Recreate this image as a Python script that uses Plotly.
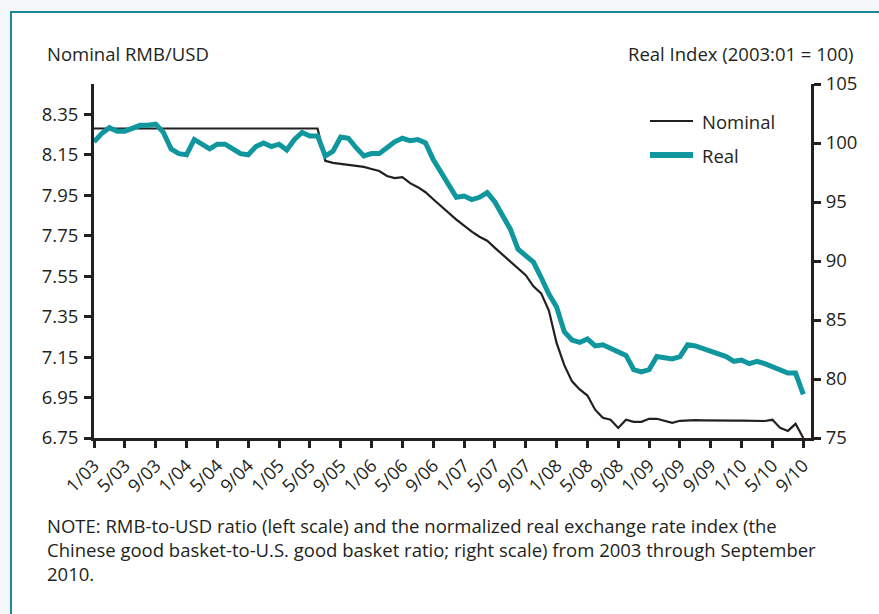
import plotly.graph_objects as go

# months since Jan 2003 (0 = 1/03 ... 92 = 9/10)
months = list(range(93))

nominal = [8.28] * 30 + [
    8.12, 8.11, 8.105, 8.10, 8.095, 8.09, 8.08, 8.07, 8.045, 8.035,
    8.04, 8.01, 7.99, 7.965, 7.93, 7.895, 7.86, 7.83, 7.80, 7.77,
    7.745, 7.725, 7.69, 7.655, 7.625, 7.59, 7.555, 7.50, 7.465, 7.38,
    7.22, 7.11, 7.03, 6.99, 6.96, 6.89, 6.85, 6.84, 6.80, 6.84,
    6.83, 6.83, 6.845, 6.845, 6.835, 6.825, 6.835, 6.837, 6.838, 6.837,
    6.836, 6.836, 6.836, 6.836, 6.836, 6.836, 6.836, 6.834, 6.84, 6.80,
    6.785, 6.82, 6.75]

real = [
    100.1, 100.8, 101.3, 101.0, 101.0, 101.3, 101.5, 101.5, 101.6, 100.9,
    99.5, 99.1, 99.0, 100.3, 99.9, 99.5, 99.9, 99.9, 99.5, 99.1,
    99.0, 99.7, 100.0, 99.7, 99.9, 99.4, 100.3, 100.9, 100.6, 100.6,
    98.9, 99.3, 100.5, 100.4, 99.6, 98.9, 99.1, 99.1, 99.6, 100.1,
    100.4, 100.2, 100.3, 100.0, 98.6, 97.5, 96.4, 95.4, 95.5, 95.2,
    95.4, 95.8, 95.0, 93.8, 92.7, 91.0, 90.5, 89.9, 88.6, 87.2,
    86.1, 84.0, 83.3, 83.1, 83.4, 82.8, 82.9, 82.6, 82.3, 82.0,
    80.8, 80.6, 80.8, 81.9, 81.8, 81.7, 81.9, 82.9, 82.8, 82.6,
    82.4, 82.2, 81.9, 81.5, 81.6, 81.3, 81.5, 81.3, 81.0, 80.7,
    80.5, 80.5, 78.7]

x_tickvals = list(range(0, 93, 4))
x_ticktext = ["1/03", "5/03", "9/03", "1/04", "5/04", "9/04", "1/05", "5/05",
              "9/05", "1/06", "5/06", "9/06", "1/07", "5/07", "9/07", "1/08",
              "5/08", "9/08", "1/09", "5/09", "9/09", "1/10", "5/10", "9/10"]
left_ticks = [6.75, 6.95, 7.15, 7.35, 7.55, 7.75, 7.95, 8.15, 8.35]
left_ticktext = ["6.75", "6.95", "7.15", "7.35", "7.55", "7.75", "7.95", "8.15", "8.35"]
right_ticks = [75, 80, 85, 90, 95, 100, 105]

TEAL = "#10979e"
INK = "#231f20"
BG = "#f4f7f9"
FONT = "Open Sans"
FS = 18.5

W, H = 879, 614
# plot area in screen pixels: x 94..811, y 84..438
L, T = 94, 84
R = W - 811
B = H - 438
pw, ph = W - L - R, H - T - B


def px(xs):
    return (xs - L) / pw


def py(ys):
    return 1 - (ys - T) / ph


fig = go.Figure()
fig.add_trace(go.Scatter(x=months, y=nominal, mode="lines", name="Nominal",
                         line=dict(color=INK, width=2.2), yaxis="y"))
fig.add_trace(go.Scatter(x=months, y=real, mode="lines", name="Real",
                         line=dict(color=TEAL, width=5), yaxis="y2"))

axis_common = dict(showline=True, linecolor=INK, linewidth=3, ticks="outside",
                   tickcolor=INK, tickwidth=3, ticklen=7, showgrid=False,
                   zeroline=False, tickfont=dict(family=FONT, size=FS, color=INK))

fig.update_layout(
    width=W, height=H,
    margin=dict(l=L, r=R, t=T, b=B),
    paper_bgcolor=BG,
    plot_bgcolor="white",
    showlegend=False,
    xaxis=dict(range=[0, 93], tickvals=x_tickvals, ticktext=x_ticktext,
               tickangle=-45, **{**axis_common, "tickfont": dict(family=FONT, size=18, color=INK)}),
    yaxis=dict(range=[6.75, 8.50], tickvals=left_ticks, ticktext=left_ticktext,
               ticklabelstandoff=2, **axis_common),
    yaxis2=dict(range=[75, 105], tickvals=right_ticks, overlaying="y", side="right",
                anchor="x", ticklabelstandoff=1, **axis_common),
    shapes=[
        dict(type="rect", xref="paper", yref="paper", layer="below",
             x0=px(11), x1=px(960), y0=py(12), y1=py(700),
             fillcolor="white", line=dict(color="#1b8893", width=2)),
        dict(type="line", xref="paper", yref="paper", x0=px(650), x1=px(693),
             y0=py(121), y1=py(121), line=dict(color=INK, width=2.2)),
        dict(type="line", xref="paper", yref="paper", x0=px(650), x1=px(693),
             y0=py(155), y1=py(155), line=dict(color=TEAL, width=6)),
    ],
    annotations=[
        dict(text="Nominal RMB/USD", xref="paper", yref="paper", x=px(45), y=py(53),
             xanchor="left", yanchor="middle", showarrow=False,
             font=dict(family=FONT, size=FS, color=INK)),
        dict(text="Real Index (2003:01 = 100)", xref="paper", yref="paper", x=px(855), y=py(53),
             xanchor="right", yanchor="middle", showarrow=False,
             font=dict(family=FONT, size=FS, color=INK)),
        dict(text="Nominal", xref="paper", yref="paper", x=px(700), y=py(121),
             xanchor="left", yanchor="middle", showarrow=False,
             font=dict(family=FONT, size=FS, color=INK)),
        dict(text="Real", xref="paper", yref="paper", x=px(700), y=py(155),
             xanchor="left", yanchor="middle", showarrow=False,
             font=dict(family=FONT, size=FS, color=INK)),
        dict(text="NOTE: RMB-to-USD ratio (left scale) and the normalized real exchange rate index (the<br>"
                  "Chinese good basket-to-U.S. good basket ratio; right scale) from 2003 through September<br>"
                  "2010.",
             xref="paper", yref="paper", x=px(45), y=py(511), xanchor="left", yanchor="top",
             align="left", showarrow=False,
             font=dict(family=FONT, size=FS, color=INK)),
    ],
)

fig.write_html(
    "out.html",
    config={"displayModeBar": False},
    post_script="document.body.style.margin='0';document.body.style.overflow='hidden';"
                "document.body.style.background='" + BG + "';",
)
